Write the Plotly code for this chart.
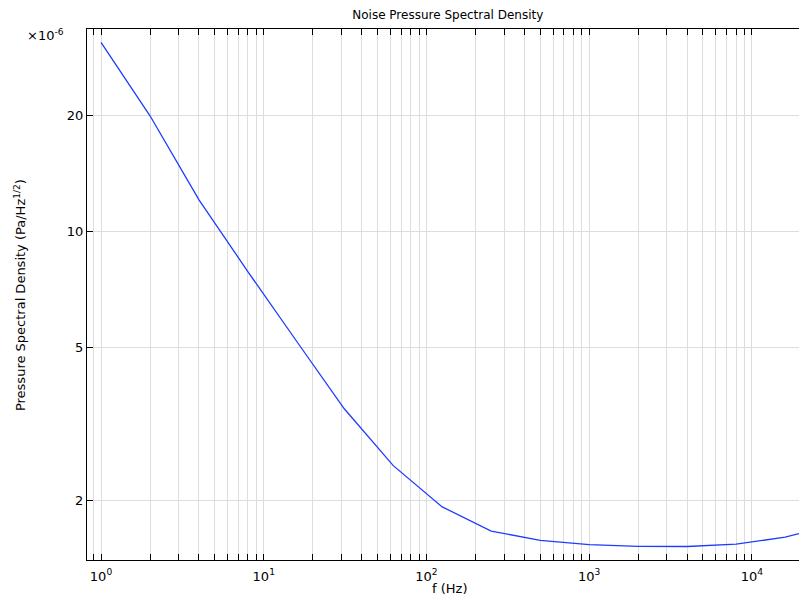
import numpy as np
import plotly.graph_objects as go

# Data (pressure spectral density in units of 1e-6 Pa/Hz^1/2)
freq_hz = [1, 2, 4, 8, 16, 31.25, 62.5, 125, 250, 500, 1000, 2000, 4000, 8000, 16000, 20000]
psd_micro = [31.0, 20.0, 12.1, 7.87, 5.18, 3.47, 2.47, 1.93, 1.67, 1.58, 1.54, 1.525, 1.523, 1.545, 1.61, 1.65]

y_tick_vals = [2, 5, 10, 20]
y_tick_text = ["2", "5", "10", "20"]

# x ticks: every 1..9 x 10^n, labels only on decades
x_tick_vals = []
x_tick_text = []
for e in range(-1, 5):
    for m in range(1, 10):
        v = m * 10.0 ** e
        if 0.82 <= v <= 21800:
            x_tick_vals.append(v)
            x_tick_text.append(f"10<sup>{e}</sup>" if m == 1 else "")

fig = go.Figure()
fig.add_trace(go.Scatter(
    x=freq_hz, y=psd_micro, mode="lines",
    line=dict(color="rgb(30,60,255)", width=1.3),
    showlegend=False, hoverinfo="skip",
))

font_family = "DejaVu Sans"
fig.update_layout(
    width=807, height=598,
    margin=dict(l=79, r=8, t=21, b=46, autoexpand=False),
    paper_bgcolor="white", plot_bgcolor="white",
    font=dict(family=font_family, size=13, color="black"),
    title=dict(text="Noise Pressure Spectral Density", x=0.545, xanchor="center",
               y=0.988, yanchor="middle", font=dict(size=12, family=font_family)),
)
fig.update_xaxes(
    type="log", range=[np.log10(0.82), np.log10(21800)],
    tickmode="array", tickvals=x_tick_vals, ticktext=x_tick_text,
    ticks="inside", ticklen=6, tickcolor="black", tickwidth=1,
    ticklabelstandoff=4,
    showgrid=True, gridcolor="#dddddd", gridwidth=1,
    showline=True, linecolor="black", linewidth=1, mirror="ticks",
    zeroline=False, automargin=False,
)
fig.update_yaxes(
    type="log", range=[np.log10(1.405), np.log10(33.6)],
    tickmode="array", tickvals=y_tick_vals, ticktext=y_tick_text,
    ticks="inside", ticklen=6, tickcolor="black", tickwidth=1,
    showgrid=True, gridcolor="#dddddd", gridwidth=1,
    showline=True, linecolor="black", linewidth=1, mirror="ticks",
    zeroline=False, automargin=False,
)
fig.add_annotation(
    text="f (Hz)", xref="paper", yref="paper", x=0.504, y=-0.0546,
    xanchor="center", yanchor="middle", showarrow=False, font=dict(size=13),
)
fig.add_annotation(
    text="Pressure Spectral Density (Pa/Hz<sup>1/2</sup>)", xref="paper", yref="paper",
    x=-0.093, y=0.499, xanchor="center", yanchor="middle", textangle=-90,
    showarrow=False, font=dict(size=13),
)
fig.add_annotation(
    text="×10<sup>-6</sup>", xref="paper", yref="paper", x=-0.029, y=0.989,
    xanchor="right", yanchor="middle", showarrow=False, font=dict(size=13),
)
fig.write_html("out.html")
